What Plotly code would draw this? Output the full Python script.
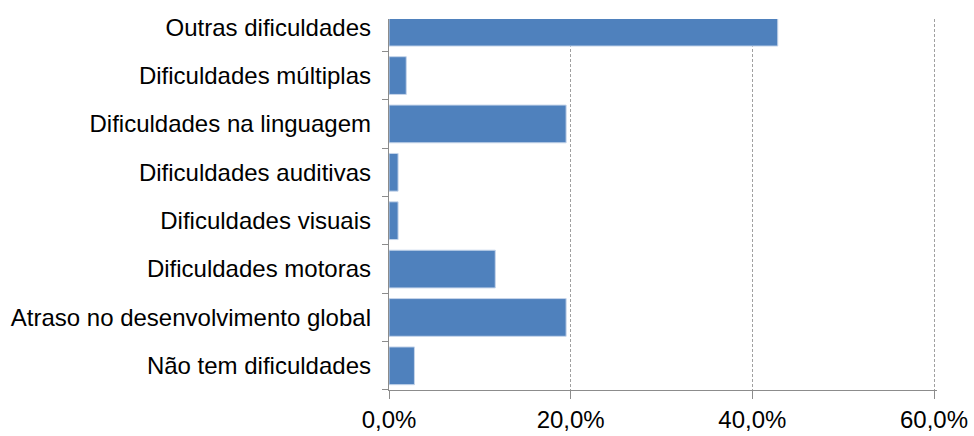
import plotly.graph_objects as go

# categories listed bottom-up, as they appear on the axis
categories = [
    'Não tem dificuldades',
    'Atraso no desenvolvimento global',
    'Dificuldades motoras',
    'Dificuldades visuais',
    'Dificuldades auditivas',
    'Dificuldades na linguagem',
    'Dificuldades múltiplas',
    'Outras dificuldades',
]
shares = [0.028, 0.195, 0.117, 0.010, 0.010, 0.195, 0.019, 0.428]
x_ticks = [0, 0.2, 0.4, 0.6]
x_tick_labels = ['0,0%', '20,0%', '40,0%', '60,0%']

bar_blue = '#4f81bd'
axis_grey = '#8c8c8c'
font_family = 'Arial, Liberation Sans, sans-serif'

fig = go.Figure()

fig.add_trace(go.Bar(
    x=shares,
    y=categories,
    orientation='h',
    marker=dict(color=bar_blue, line=dict(color='#c6d5ea', width=1)),
    hovertemplate='%{y}: %{x:.1%}<extra></extra>',
    showlegend=False,
))

# invisible twin trace so the labels can sit on a slightly taller axis
# (the top bar is cut by the plot frame in the original)
fig.add_trace(go.Scatter(
    x=shares,
    y=categories,
    xaxis='x2',
    yaxis='y2',
    mode='markers',
    marker=dict(opacity=0),
    hoverinfo='skip',
    showlegend=False,
))

plot_top, plot_bottom, full_top = 19, 393, 3
main_top = (plot_bottom - plot_top) / (plot_bottom - full_top)
band = (plot_bottom - full_top) / 8

# 0% sits at x=389 and 60% at x~934; leave a few px past 60% so its gridline is drawn
left, right_margin = 389, 37
px_per_unit = (934 - left) / 0.6
x_range = [0, (974 - right_margin - left) / px_per_unit]

fig.update_layout(
    width=974,
    height=436,
    margin=dict(l=left, r=right_margin, t=full_top, b=436 - plot_bottom),
    plot_bgcolor='rgba(0,0,0,0)',
    paper_bgcolor='white',
    bargap=0.22,
    font=dict(family=font_family, size=24, color='black'),
    xaxis=dict(
        range=x_range,
        tickvals=x_ticks,
        ticktext=x_tick_labels,
        showgrid=True,
        gridcolor='#a0a0a0',
        griddash='3px,2px',
        gridwidth=1,
        zeroline=False,
        showline=True,
        linecolor=axis_grey,
        ticks='outside',
        ticklen=8,
        tickcolor=axis_grey,
        tickfont=dict(size=24),
        anchor='y',
    ),
    xaxis2=dict(
        range=x_range,
        visible=False,
        anchor='y2',
    ),
    yaxis=dict(
        type='category',
        categoryorder='array',
        categoryarray=categories,
        domain=[0, main_top],
        range=[-0.5, 7.5 - (plot_top - full_top) / band],
        tickson='boundaries',
        ticks='outside',
        ticklen=6,
        tickcolor=axis_grey,
        showline=True,
        linecolor=axis_grey,
        showgrid=False,
        showticklabels=False,
    ),
    yaxis2=dict(
        type='category',
        categoryorder='array',
        categoryarray=categories,
        domain=[0, 1],
        range=[-0.5, 7.5],
        anchor='x2',
        side='left',
        showline=False,
        showgrid=False,
        zeroline=False,
        ticks='',
        ticklabelstandoff=17,
        tickfont=dict(size=24),
    ),
)

# the page body has a default 8px margin; drop it so the chart fills the window
fig.write_html('out.html', config={'displayModeBar': False},
               post_script="document.body.style.margin='0';")
